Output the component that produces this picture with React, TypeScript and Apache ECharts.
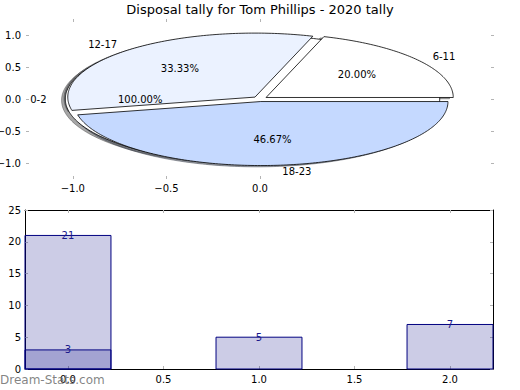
import React, { useEffect, useRef } from 'react';
import * as echarts from 'echarts';

const TITLE = 'Disposal tally for Tom Phillips - 2020 tally';
const WATERMARK = 'Dream-Stats.com';

// first pie (single slice) and second pie
const pie1Labels = ['0-2'];
const pie1Values = [21];
const pie1Colors = ['#ffffff'];
const pie2Labels = ['6-11', '12-17', '18-23'];
const pie2Values = [3, 5, 7];
const pie2Colors = ['#ffffff', '#ebf2ff', '#c5d9ff'];

const pieXTicks = [-1.0, -0.5, 0.0];
const pieYTicks = [-1.0, -0.5, 0.0, 0.5, 1.0];

// bars
const barPositionsA = [0];
const barValuesA = [21];
const barPositionsB = [0, 1, 2];
const barValuesB = [3, 5, 7];
const barXTicks = [0, 0.5, 1.0, 1.5, 2.0];
const barYTicks = [0, 5, 10, 15, 20, 25];

const EXPLODE = 0.04;
const BAR_WIDTH = 0.45;
const FONT = '"DejaVu Sans", sans-serif';
const TICK_COLOR = '#b4b4b4';

type Wedge = {
  t1: number; t2: number; cx: number; cy: number; mid: number;
  color: string; label: string; pct: string;
};

function buildWedges(labels: string[], values: number[], colors: string[]): Wedge[] {
  const total = values.reduce((a, b) => a + b, 0);
  let theta = 0;
  return values.map((v, i) => {
    const t1 = theta;
    const t2 = theta + (360 * v) / total;
    theta = t2;
    const mid = (((t1 + t2) / 2) * Math.PI) / 180;
    return {
      t1, t2, mid,
      cx: EXPLODE * Math.cos(mid),
      cy: EXPLODE * Math.sin(mid),
      color: colors[i],
      label: labels[i],
      pct: ((100 * v) / total).toFixed(2) + '%',
    };
  });
}

const wedges: Wedge[] = [
  ...buildWedges(pie1Labels, pie1Values, pie1Colors),
  ...buildWedges(pie2Labels, pie2Values, pie2Colors),
];

function wedgePoints(api: any, w: Wedge, dx: number, dy: number) {
  const pts: number[][] = [];
  const full = w.t2 - w.t1 >= 359.999;
  if (!full) pts.push(api.coord([w.cx + dx, w.cy + dy]));
  const n = Math.max(2, Math.ceil(w.t2 - w.t1));
  for (let k = 0; k <= n; k++) {
    const t = ((w.t1 + ((w.t2 - w.t1) * k) / n) * Math.PI) / 180;
    pts.push(api.coord([w.cx + dx + Math.cos(t), w.cy + dy + Math.sin(t)]));
  }
  return pts;
}

function hexToRgb(h: string) {
  const n = parseInt(h.slice(1), 16);
  return [(n >> 16) & 255, (n >> 8) & 255, n & 255];
}

const fmt1 = (v: number) => (v < 0 ? '\u2212' : '') + Math.abs(v).toFixed(1);

function axisCommon(extra: any) {
  return {
    type: 'value',
    splitLine: { show: false },
    axisLine: { show: false, onZero: false },
    ...extra,
  };
}

export default function App() {
  const ref = useRef<HTMLDivElement>(null);
  useEffect(() => {
    if (!ref.current) return;
    const chart = echarts.init(ref.current, undefined, { renderer: 'svg' });
    const labelStyle = { fontFamily: FONT, fontSize: 10, color: '#000' };
    const wedgeData = wedges.map((w) => [w.cx, w.cy]);

    const option: any = {
      animation: false,
      backgroundColor: '#ffffff',
      grid: [
        { left: 26, top: 19, width: 468, height: 160, containLabel: false, outerBoundsMode: 'none' },
        { left: 25, top: 210, width: 468, height: 159, containLabel: false, outerBoundsMode: 'none' },
      ],
      xAxis: [
        axisCommon({
          gridIndex: 0, position: 'bottom', min: -1.25, max: 1.25,
          axisTick: { show: true, inside: true, length: 3, lineStyle: { color: TICK_COLOR }, customValues: pieXTicks },
          axisLabel: { ...labelStyle, margin: 4, formatter: fmt1, customValues: pieXTicks },
        }),
        axisCommon({
          gridIndex: 0, position: 'top', min: -1.25, max: 1.25,
          axisTick: { show: true, inside: true, length: 3, lineStyle: { color: TICK_COLOR }, customValues: pieXTicks },
          axisLabel: { show: false },
        }),
        axisCommon({
          gridIndex: 1, position: 'bottom', min: -BAR_WIDTH / 2, max: 2 + BAR_WIDTH / 2,
          axisLine: { show: true, onZero: false, lineStyle: { color: '#000', width: 1 } },
          axisTick: { show: true, inside: true, length: 3, lineStyle: { color: TICK_COLOR }, customValues: barXTicks },
          axisLabel: { ...labelStyle, margin: 5, formatter: (v: number) => v.toFixed(1), customValues: barXTicks },
        }),
        axisCommon({
          gridIndex: 1, position: 'top', min: -BAR_WIDTH / 2, max: 2 + BAR_WIDTH / 2,
          axisLine: { show: true, onZero: false, lineStyle: { color: '#000', width: 1 } },
          axisTick: { show: true, inside: true, length: 3, lineStyle: { color: TICK_COLOR }, customValues: barXTicks },
          axisLabel: { show: false },
        }),
      ],
      yAxis: [
        axisCommon({
          gridIndex: 0, position: 'left', min: -1.25, max: 1.25,
          axisTick: { show: true, inside: true, length: 3, lineStyle: { color: TICK_COLOR }, customValues: pieYTicks },
          axisLabel: { ...labelStyle, margin: 5, formatter: fmt1, customValues: pieYTicks },
        }),
        axisCommon({
          gridIndex: 0, position: 'right', min: -1.25, max: 1.25,
          axisTick: { show: true, inside: true, length: 3, lineStyle: { color: TICK_COLOR }, customValues: pieYTicks },
          axisLabel: { show: false },
        }),
        axisCommon({
          gridIndex: 1, position: 'left', min: 0, max: 25, interval: 5,
          axisLine: { show: true, onZero: false, lineStyle: { color: '#000', width: 1 } },
          axisTick: { show: true, inside: true, length: 3, lineStyle: { color: TICK_COLOR }, customValues: barYTicks },
          axisLabel: { ...labelStyle, margin: 4, customValues: barYTicks },
        }),
        axisCommon({
          gridIndex: 1, position: 'right', min: 0, max: 25, interval: 5,
          axisLine: { show: true, onZero: false, lineStyle: { color: '#000', width: 1 } },
          axisTick: { show: true, inside: true, length: 3, lineStyle: { color: TICK_COLOR }, customValues: barYTicks },
          axisLabel: { show: false },
        }),
      ],
      series: [
        {
          type: 'custom', name: 'shadows', xAxisIndex: 0, yAxisIndex: 0, z: 1, clip: false,
          data: wedgeData,
          renderItem: (params: any, api: any) => {
            const w = wedges[params.dataIndex];
            const [r, g, b] = hexToRgb(w.color);
            const c = `rgb(${Math.round(r * 0.3)},${Math.round(g * 0.3)},${Math.round(b * 0.3)})`;
            return {
              type: 'polygon',
              shape: { points: wedgePoints(api, w, -0.02, -0.02) },
              style: { fill: c, stroke: c, lineWidth: 1, opacity: 0.5 },
            };
          },
        },
        {
          type: 'custom', name: 'wedges', xAxisIndex: 0, yAxisIndex: 0, z: 2, clip: false,
          data: wedgeData,
          renderItem: (params: any, api: any) => {
            const w = wedges[params.dataIndex];
            return {
              type: 'polygon',
              shape: { points: wedgePoints(api, w, 0, 0) },
              style: { fill: w.color, stroke: '#000', lineWidth: 0.8 },
            };
          },
        },
        {
          type: 'custom', name: 'pieLabels', xAxisIndex: 0, yAxisIndex: 0, z: 3, clip: false,
          data: wedgeData,
          renderItem: (params: any, api: any) => {
            const w = wedges[params.dataIndex];
            const lx = w.cx + 1.1 * Math.cos(w.mid);
            const ly = w.cy + 1.1 * Math.sin(w.mid);
            const px = w.cx + 0.6 * Math.cos(w.mid);
            const py = w.cy + 0.6 * Math.sin(w.mid);
            const lp = api.coord([lx, ly]);
            const pp = api.coord([px, py]);
            return {
              type: 'group',
              children: [
                {
                  type: 'text', x: lp[0], y: lp[1],
                  style: { text: w.label, fill: '#000', fontFamily: FONT, fontSize: 10, align: lx < 0 ? 'right' : 'left', verticalAlign: 'middle' },
                },
                {
                  type: 'text', x: pp[0], y: pp[1],
                  style: { text: w.pct, fill: '#000', fontFamily: FONT, fontSize: 10, align: 'center', verticalAlign: 'middle' },
                },
              ],
            };
          },
        },
        ...[
          { pos: barPositionsA, vals: barValuesA },
          { pos: barPositionsB, vals: barValuesB },
        ].map((s, si) => ({
          type: 'custom', name: 'bars' + si, xAxisIndex: 2, yAxisIndex: 2, z: 2 + si,
          data: s.pos.map((p, i) => [p, s.vals[i]]),
          renderItem: (params: any, api: any) => {
            const x = api.value(0);
            const y = api.value(1);
            const p0 = api.coord([x - BAR_WIDTH / 2, y]);
            const p1 = api.coord([x + BAR_WIDTH / 2, 0]);
            return {
              type: 'group',
              children: [
                {
                  type: 'rect',
                  shape: { x: p0[0], y: p0[1], width: p1[0] - p0[0], height: p1[1] - p0[1] },
                  style: { fill: 'rgba(0,0,128,0.2)', stroke: '#000080', lineWidth: 1 },
                },
                {
                  type: 'text', x: (p0[0] + p1[0]) / 2, y: p0[1], z2: 10,
                  style: { text: String(y), fill: '#1a1a8c', fontFamily: FONT, fontSize: 10, align: 'center', verticalAlign: 'middle' },
                },
              ],
            };
          },
        })),
      ],
      graphic: [
        {
          type: 'text', left: 'center', top: 3,
          style: { text: TITLE, fill: '#000', fontFamily: FONT, fontSize: 13 },
        },
        {
          type: 'text', left: 0, top: 374, z: 100,
          style: { text: WATERMARK, fill: 'rgba(110,110,110,0.85)', fontFamily: FONT, fontSize: 12 },
        },
      ],
    };
    chart.setOption(option);
    return () => chart.dispose();
  }, []);
  return <div ref={ref} style={{ position: 'fixed', left: 0, top: 0, width: 520, height: 390 }} />;
}
